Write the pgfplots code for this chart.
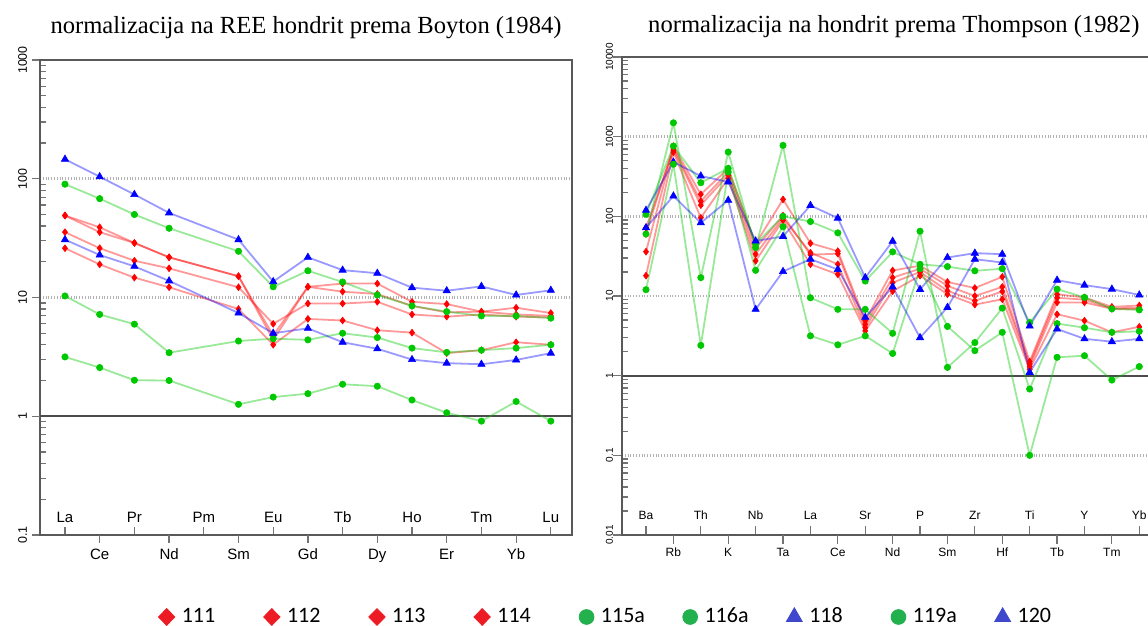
\documentclass[border=0pt]{standalone}
\usepackage{fontspec}
\setmainfont{Liberation Serif}
\newfontfamily\lsans{Liberation Sans}
\newfontfamily\lcal{Carlito}
\usepackage{pgfplots}
\pgfplotsset{compat=1.18}
\definecolor{cred}{RGB}{255,0,0}
\definecolor{cgreen}{RGB}{0,200,0}
\definecolor{cblue}{RGB}{0,0,255}
\definecolor{lred}{RGB}{237,28,36}
\definecolor{lgreen}{RGB}{34,177,76}
\definecolor{lblue}{RGB}{63,72,204}
\pgfplotsset{
  sRed/.style={color=cred, draw opacity=0.4, line width=0.9pt, mark=diamond*, mark size=1.7pt,
    mark options={solid, draw opacity=1, fill opacity=1, line width=0.3pt}},
  sGreen/.style={color=cgreen, draw opacity=0.4, line width=0.9pt, mark=*, mark size=1.6pt,
    mark options={solid, draw opacity=1, fill opacity=1, line width=0.3pt}},
  sBlue/.style={color=cblue, draw opacity=0.4, line width=0.9pt, mark=triangle*, mark size=2.1pt,
    mark options={solid, draw opacity=1, fill opacity=1, line width=0.3pt}},
}
\newcommand{\lgt}[1]{\hspace{3pt}\makebox[37.2pt][l]{#1}}
\begin{document}
\begin{tikzpicture}
\useasboundingbox (0,0) rectangle (574pt,313pt);
% ---------------- left panel ----------------
\begin{axis}[
  scale only axis, ymode=log,
  axis line style={black!65, line width=1pt},
  tick align=inside, ytick pos=left, xtick pos=bottom,
  major tick length=4pt, minor tick length=3pt,
  tick style={black!55, line width=0.6pt},
  major y tick style={xshift=-4pt},
  ymajorgrids, major grid style={densely dotted, black!30, line width=1.3pt},
  extra y ticks={1}, extra y tick labels={1},
  extra y tick style={grid=major, major grid style={solid, black!70, line width=1pt}},
  /pgf/number format/assume math mode=true,
  at={(20pt,45.5pt)}, anchor=south west,
  width=266pt, height=237.5pt,
  xmin=-0.72, xmax=14.61, ymin=0.1, ymax=1000,
  xtick={0,2,4,6,8,10,12,14}, xticklabels={La,Pr,Pm,Eu,Tb,Ho,Tm,Lu},
  extra x ticks={1,3,5,7,9,11,13}, extra x tick labels={Ce,Nd,Sm,Gd,Dy,Er,Yb},
  extra x tick style={tick align=outside, every x tick label/.style={anchor=base, yshift=-8.3pt}},
  ytick={0.1,10,100,1000}, yticklabels={0.1,10,100,1000},
  minor ytick={0.2,0.3,0.4,0.5,0.6,0.7,0.8,0.9,2,3,4,5,6,7,8,9,20,30,40,50,60,70,80,90,200,300,400,500,600,700,800,900},
  tick label style={font=\lsans\fontsize{7.5}{8}\selectfont},
  xticklabel style={anchor=base, yshift=6.2pt},
  yticklabel style={font=\lsans\fontsize{6.2}{7}\selectfont, xshift=-3pt, rotate=90, anchor=south},
  title={normalizacija na REE hondrit prema Boyton (1984)},
  title style={at={(0.5,1)}, anchor=center, yshift=10pt, font=\fontsize{12.3}{14}\selectfont},
  legend columns=9,
  legend style={draw=none, fill=none, at={(0.2219,-0.1726)}, anchor=west, inner sep=0pt,
    nodes={inner xsep=0.5pt, inner ysep=1pt},
    font=\lcal\fontsize{11}{12}\selectfont,
    /tikz/every even column/.append style={column sep=3.2pt}},
]
\addlegendimage{only marks, mark=diamond*, mark size=4.2pt, mark options={xscale=1.3}, color=lred}
\addlegendentry{\lgt{111}}
\addlegendimage{only marks, mark=diamond*, mark size=4.2pt, mark options={xscale=1.3}, color=lred}
\addlegendentry{\lgt{112}}
\addlegendimage{only marks, mark=diamond*, mark size=4.2pt, mark options={xscale=1.3}, color=lred}
\addlegendentry{\lgt{113}}
\addlegendimage{only marks, mark=diamond*, mark size=4.2pt, mark options={xscale=1.3}, color=lred}
\addlegendentry{\lgt{114}}
\addlegendimage{only marks, mark=*, mark size=3.7pt, color=lgreen}
\addlegendentry{\lgt{115a}}
\addlegendimage{only marks, mark=*, mark size=3.7pt, color=lgreen}
\addlegendentry{\lgt{116a}}
\addlegendimage{only marks, mark=triangle*, mark size=4.6pt, color=lblue}
\addlegendentry{\lgt{118}}
\addlegendimage{only marks, mark=*, mark size=3.7pt, color=lgreen}
\addlegendentry{\lgt{119a}}
\addlegendimage{only marks, mark=triangle*, mark size=4.6pt, color=lblue}
\addlegendentry{\lgt{120}}
% 111
\addplot[sRed, forget plot] coordinates {(0,49) (1,39) (2,28.8) (3,21.8) (5,15.1) (6,4.8) (7,12.3) (8,13.1) (9,13.1) (10,9.2) (11,8.8) (12,7.6) (13,8.2) (14,7.4)};
% 112
\addplot[sRed, forget plot] coordinates {(0,49) (1,35.5) (2,28.8) (3,21.8) (5,15.1) (6,4.4) (7,12.3) (8,11.2) (9,10.7) (10,8.5) (11,7.5) (12,7.6) (13,7.2) (14,7.0)};
% 113
\addplot[sRed, forget plot] coordinates {(0,35.5) (1,26) (2,20.4) (3,17.6) (5,12.2) (6,6.0) (7,8.9) (8,8.9) (9,9.2) (10,7.2) (11,6.9) (12,7.2) (13,6.9) (14,6.8)};
% 114
\addplot[sRed, forget plot] coordinates {(0,26) (1,19) (2,14.7) (3,12.2) (5,8.0) (6,4.0) (7,6.6) (8,6.4) (9,5.3) (10,5.06) (11,3.4) (12,3.6) (13,4.2) (14,4.0)};
% 115a
\addplot[sGreen, forget plot] coordinates {(0,90) (1,68) (2,50) (3,38.3) (5,24.5) (6,12.3) (7,16.8) (8,13.5) (9,10.5) (10,8.5) (11,7.6) (12,7.0) (13,7.0) (14,6.7)};
% 116a
\addplot[sGreen, forget plot] coordinates {(0,10.3) (1,7.2) (2,5.96) (3,3.43) (5,4.3) (6,4.5) (7,4.4) (8,5.0) (9,4.6) (10,3.75) (11,3.45) (12,3.6) (13,3.75) (14,4.0)};
% 118
\addplot[sBlue, forget plot] coordinates {(0,146) (1,104) (2,73.7) (3,51.6) (5,30.7) (6,13.6) (7,21.8) (8,17.0) (9,16.0) (10,12.1) (11,11.4) (12,12.4) (13,10.5) (14,11.5)};
% 119a
\addplot[sGreen, forget plot] coordinates {(0,3.16) (1,2.57) (2,2.01) (3,2.0) (5,1.26) (6,1.45) (7,1.55) (8,1.86) (9,1.79) (10,1.37) (11,1.07) (12,0.91) (13,1.33) (14,0.91)};
% 120
\addplot[sBlue, forget plot] coordinates {(0,30.7) (1,22.8) (2,18.3) (3,13.8) (5,7.4) (6,5.0) (7,5.5) (8,4.2) (9,3.7) (10,3.0) (11,2.8) (12,2.74) (13,2.98) (14,3.4)};
\end{axis}
% ---------------- right panel ----------------
\begin{axis}[
  scale only axis, ymode=log,
  axis line style={black!65, line width=1pt},
  tick align=inside, ytick pos=left, xtick pos=bottom,
  major tick length=4.5pt, minor tick length=3pt,
  tick style={black!55, line width=0.6pt},
  major y tick style={xshift=-4.5pt},
  ymajorgrids, major grid style={densely dotted, black!30, line width=1.3pt},
  extra y ticks={1}, extra y tick labels={1},
  extra y tick style={grid=major, major grid style={solid, black!70, line width=1pt}},
  /pgf/number format/assume math mode=true,
  at={(311pt,45.5pt)}, anchor=south west,
  width=267pt, height=239pt,
  xmin=-0.876, xmax=18.61, ymin=0.01, ymax=10000,
  xtick={0,2,4,6,8,10,12,14,16,18}, xticklabels={Ba,Th,Nb,La,Sr,P,Zr,Ti,Y,Yb},
  extra x ticks={1,3,5,7,9,11,13,15,17}, extra x tick labels={Rb,K,Ta,Ce,Nd,Sm,Hf,Tb,Tm},
  extra x tick style={tick align=outside, every x tick label/.style={anchor=base, yshift=-6.5pt}},
  ytick={0.01,0.1,10,100,1000,10000}, yticklabels={0.01,0.1,10,100,1000,10000},
  minor ytick={0.02,0.03,0.04,0.05,0.06,0.07,0.08,0.09,0.2,0.3,0.4,0.5,0.6,0.7,0.8,0.9,2,3,4,5,6,7,8,9,20,30,40,50,60,70,80,90,200,300,400,500,600,700,800,900,2000,3000,4000,5000,6000,7000,8000,9000},
  tick label style={font=\lsans\fontsize{6}{7}\selectfont},
  xticklabel style={anchor=base, yshift=7.5pt},
  yticklabel style={font=\lsans\fontsize{5}{6}\selectfont, xshift=-1pt, rotate=90, anchor=south},
  title={normalizacija na hondrit prema Thompson (1982)},
  title style={at={(0.509,1)}, anchor=center, yshift=9pt, font=\fontsize{12.3}{14}\selectfont},
]
% 111
\addplot[sRed] coordinates {(0,60) (1,760) (2,189) (3,398) (4,45) (5,163) (6,46) (7,36.6) (8,4.9) (9,20.9) (10,24) (11,15) (12,12.6) (13,17.4) (14,1.5) (15,10.5) (16,9.6) (17,7.3) (18,7.6)};
% 112
\addplot[sRed] coordinates {(0,36) (1,720) (2,155) (3,360) (4,40) (5,102) (6,33) (7,34) (8,4.4) (9,17) (10,22) (11,13.4) (12,10) (13,13) (14,1.4) (15,9.5) (16,9.0) (17,7.0) (18,7.1)};
% 113
\addplot[sRed] coordinates {(0,72) (1,680) (2,138) (3,330) (4,33.5) (5,95) (6,35) (7,25) (8,4.0) (9,14.7) (10,20) (11,11.6) (12,8.7) (13,11.4) (14,1.3) (15,8.3) (16,8.3) (17,6.9) (18,6.8)};
% 114
\addplot[sRed] coordinates {(0,18) (1,640) (2,96) (3,300) (4,27.6) (5,89) (6,25) (7,18.7) (8,3.65) (9,11.5) (10,18) (11,10.5) (12,7.8) (13,9.1) (14,1.2) (15,5.9) (16,4.9) (17,3.5) (18,4.1)};
% 115a
\addplot[sGreen] coordinates {(0,106) (1,762) (2,264) (3,400) (4,45) (5,100) (6,86) (7,62) (8,15.4) (9,35.8) (10,25) (11,23.4) (12,20.7) (13,22) (14,4.65) (15,12.2) (16,9.6) (17,6.9) (18,6.7)};
% 116a
\addplot[sGreen] coordinates {(0,60) (1,1493) (2,17) (3,641) (4,40.5) (5,778) (6,9.5) (7,6.8) (8,6.8) (9,3.4) (10,65) (11,1.27) (12,2.6) (13,7.05) (14,0.68) (15,4.5) (16,4.0) (17,3.5) (18,3.6)};
% 118
\addplot[sBlue] coordinates {(0,119) (1,480) (2,321) (3,270) (4,49) (5,56) (6,137) (7,95) (8,17) (9,48.7) (10,12.1) (11,30.4) (12,34.5) (13,33.5) (14,4.2) (15,15.8) (16,13.7) (17,12.2) (18,10.3)};
% 119a
\addplot[sGreen] coordinates {(0,12) (1,450) (2,2.4) (3,360) (4,21) (5,74) (6,3.16) (7,2.44) (8,3.16) (9,1.9) (10,22) (11,4.15) (12,2.06) (13,3.5) (14,0.1) (15,1.7) (16,1.78) (17,0.88) (18,1.3)};
% 120
\addplot[sBlue] coordinates {(0,72) (1,180) (2,83) (3,159) (4,6.8) (5,20.3) (6,29) (7,21.5) (8,5.4) (9,13) (10,3.0) (11,7.2) (12,29) (13,26.3) (14,1.1) (15,3.85) (16,2.9) (17,2.67) (18,2.9)};
\end{axis}
\end{tikzpicture}
\end{document}
